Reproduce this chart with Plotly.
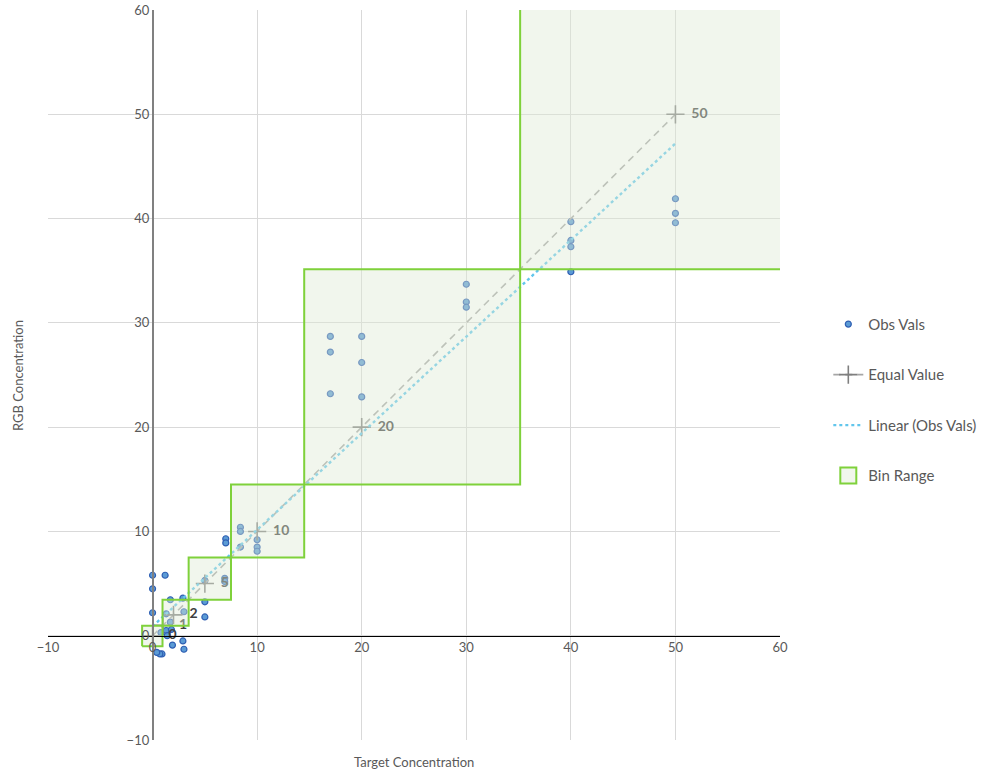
import plotly.graph_objects as go

# ---- data ----
obs_x = [0, 0, 0, 1.2, 5.0, 5.0,
         1.7, 2.9, 1.7, 3.0, 1.3,
         0.8, 1.3, 1.8, 1.4, 1.9, 2.9, 3.0, 0.9, 0.7, 0.4,
         5.0, 6.9, 6.9,
         7.0, 7.0, 8.4, 8.4, 8.4, 10.0, 10.0, 10.0,
         17, 17, 17, 20, 20, 20,
         30, 30, 30,
         40, 40, 40, 40,
         50, 50, 50]
obs_y = [5.8, 4.5, 2.2, 5.8, 3.25, 1.8,
         3.45, 3.6, 1.3, 2.3, 2.1,
         0.3, 0.5, 0.6, 0.0, -0.9, -0.5, -1.3, -1.75, -1.75, -1.6,
         5.3, 5.5, 5.2,
         9.3, 8.9, 10.4, 10.0, 8.5, 9.2, 8.5, 8.1,
         28.7, 27.2, 23.2, 28.7, 26.2, 22.9,
         33.7, 32.0, 31.5,
         39.7, 37.9, 37.3, 34.9,
         41.9, 40.5, 39.6]

equal_vals = [0, 1, 2, 5, 10, 20, 50]
equal_labels = ["0", "1", "2", "5", "10", "20", "50"]

trend_x = [0, 50]
trend_y = [0.9, 47.2]

bin_lo = [-1.0, 0.95, 3.45, 7.5, 14.5, 35.15]
bin_hi = [0.95, 3.45, 7.5, 14.5, 35.15, 60.5]

x_range = [-10, 60]
y_range = [-10, 60]
tick_vals = [-10, 0, 10, 20, 30, 40, 50, 60]

FONT = "Lato"
GRAY = "#595959"
GREEN = "#7FD13B"
BOX_FILL = "rgba(222,234,212,0.42)"

fig = go.Figure()

fig.add_trace(go.Scatter(
    x=obs_x, y=obs_y, mode="markers", name="Obs Vals",
    marker=dict(size=6, color="#5B9BD5", line=dict(color="#2F5FB3", width=1.2)),
    legendgroup="a",
))

fig.add_trace(go.Scatter(
    x=equal_vals, y=equal_vals, mode="lines+markers+text", name="Equal Value",
    text=["  " + t for t in equal_labels], textposition="middle right",
    textfont=dict(family=FONT, size=14, color="#404040", weight="bold"),
    line=dict(color="#A6A6A6", width=1.6, dash="7px,5px"),
    marker=dict(symbol="cross-thin", size=13, line=dict(color="#7F7F7F", width=1.6)),
    legendgroup="b",
))

fig.add_trace(go.Scatter(
    x=trend_x, y=trend_y, mode="lines", name="Linear (Obs Vals)",
    line=dict(color="#62C6EC", width=2.4, dash="dot"),
    legendgroup="c",
))

bx, by = [], []
for lo, hi in zip(bin_lo, bin_hi):
    bx += [lo, hi, hi, lo, lo, None]
    by += [lo, lo, hi, hi, lo, None]

fig.add_trace(go.Scatter(
    x=bx, y=by, mode="lines", fill="toself", fillcolor=BOX_FILL,
    line=dict(color=GREEN, width=2), showlegend=False, hoverinfo="skip",
))

fig.add_trace(go.Scatter(
    x=[None], y=[None], mode="markers", name="Bin Range",
    marker=dict(symbol="square", size=22, color="#F1F6EC", line=dict(color=GREEN, width=2)),
    legendgroup="d",
))

x_axis_pos = (0 - y_range[0]) / (y_range[1] - y_range[0])
y_axis_pos = (0 - x_range[0]) / (x_range[1] - x_range[0])

fig.update_layout(
    width=1000, height=775,
    margin=dict(l=48, r=220, t=10, b=35, autoexpand=False),
    paper_bgcolor="white", plot_bgcolor="white",
    font=dict(family=FONT, size=13, color=GRAY),
    xaxis=dict(range=x_range, tickvals=tick_vals, showgrid=True, gridcolor="#D9D9D9",
               gridwidth=1, zeroline=False, showline=True, linecolor="black", linewidth=1,
               anchor="free", position=x_axis_pos, ticks="", automargin=False,
               tickfont=dict(family=FONT, size=13, color=GRAY)),
    yaxis=dict(range=y_range, tickvals=tick_vals, showgrid=True, gridcolor="#D9D9D9",
               gridwidth=1, zeroline=False, showline=True, linecolor="#808080", linewidth=1.5,
               anchor="free", position=y_axis_pos, ticks="", automargin=False,
               tickfont=dict(family=FONT, size=13, color=GRAY)),
    legend=dict(x=1.066, y=0.592, xanchor="left", yanchor="top",
                font=dict(family=FONT, size=15, color=GRAY),
                traceorder="grouped", tracegroupgap=28, itemsizing="trace",
                bgcolor="rgba(0,0,0,0)"),
    annotations=[
        dict(text="Target Concentration", x=0.5, y=-0.03, xref="paper", yref="paper",
             xanchor="center", yanchor="middle", showarrow=False,
             font=dict(family=FONT, size=13, color=GRAY)),
        dict(text="RGB Concentration", x=-0.041, y=0.5, xref="paper", yref="paper",
             xanchor="center", yanchor="middle", showarrow=False, textangle=-90,
             font=dict(family=FONT, size=13, color=GRAY)),
    ],
)

fig.write_html("out.html", config={"displayModeBar": False},
               post_script="document.body.style.margin='0';")
